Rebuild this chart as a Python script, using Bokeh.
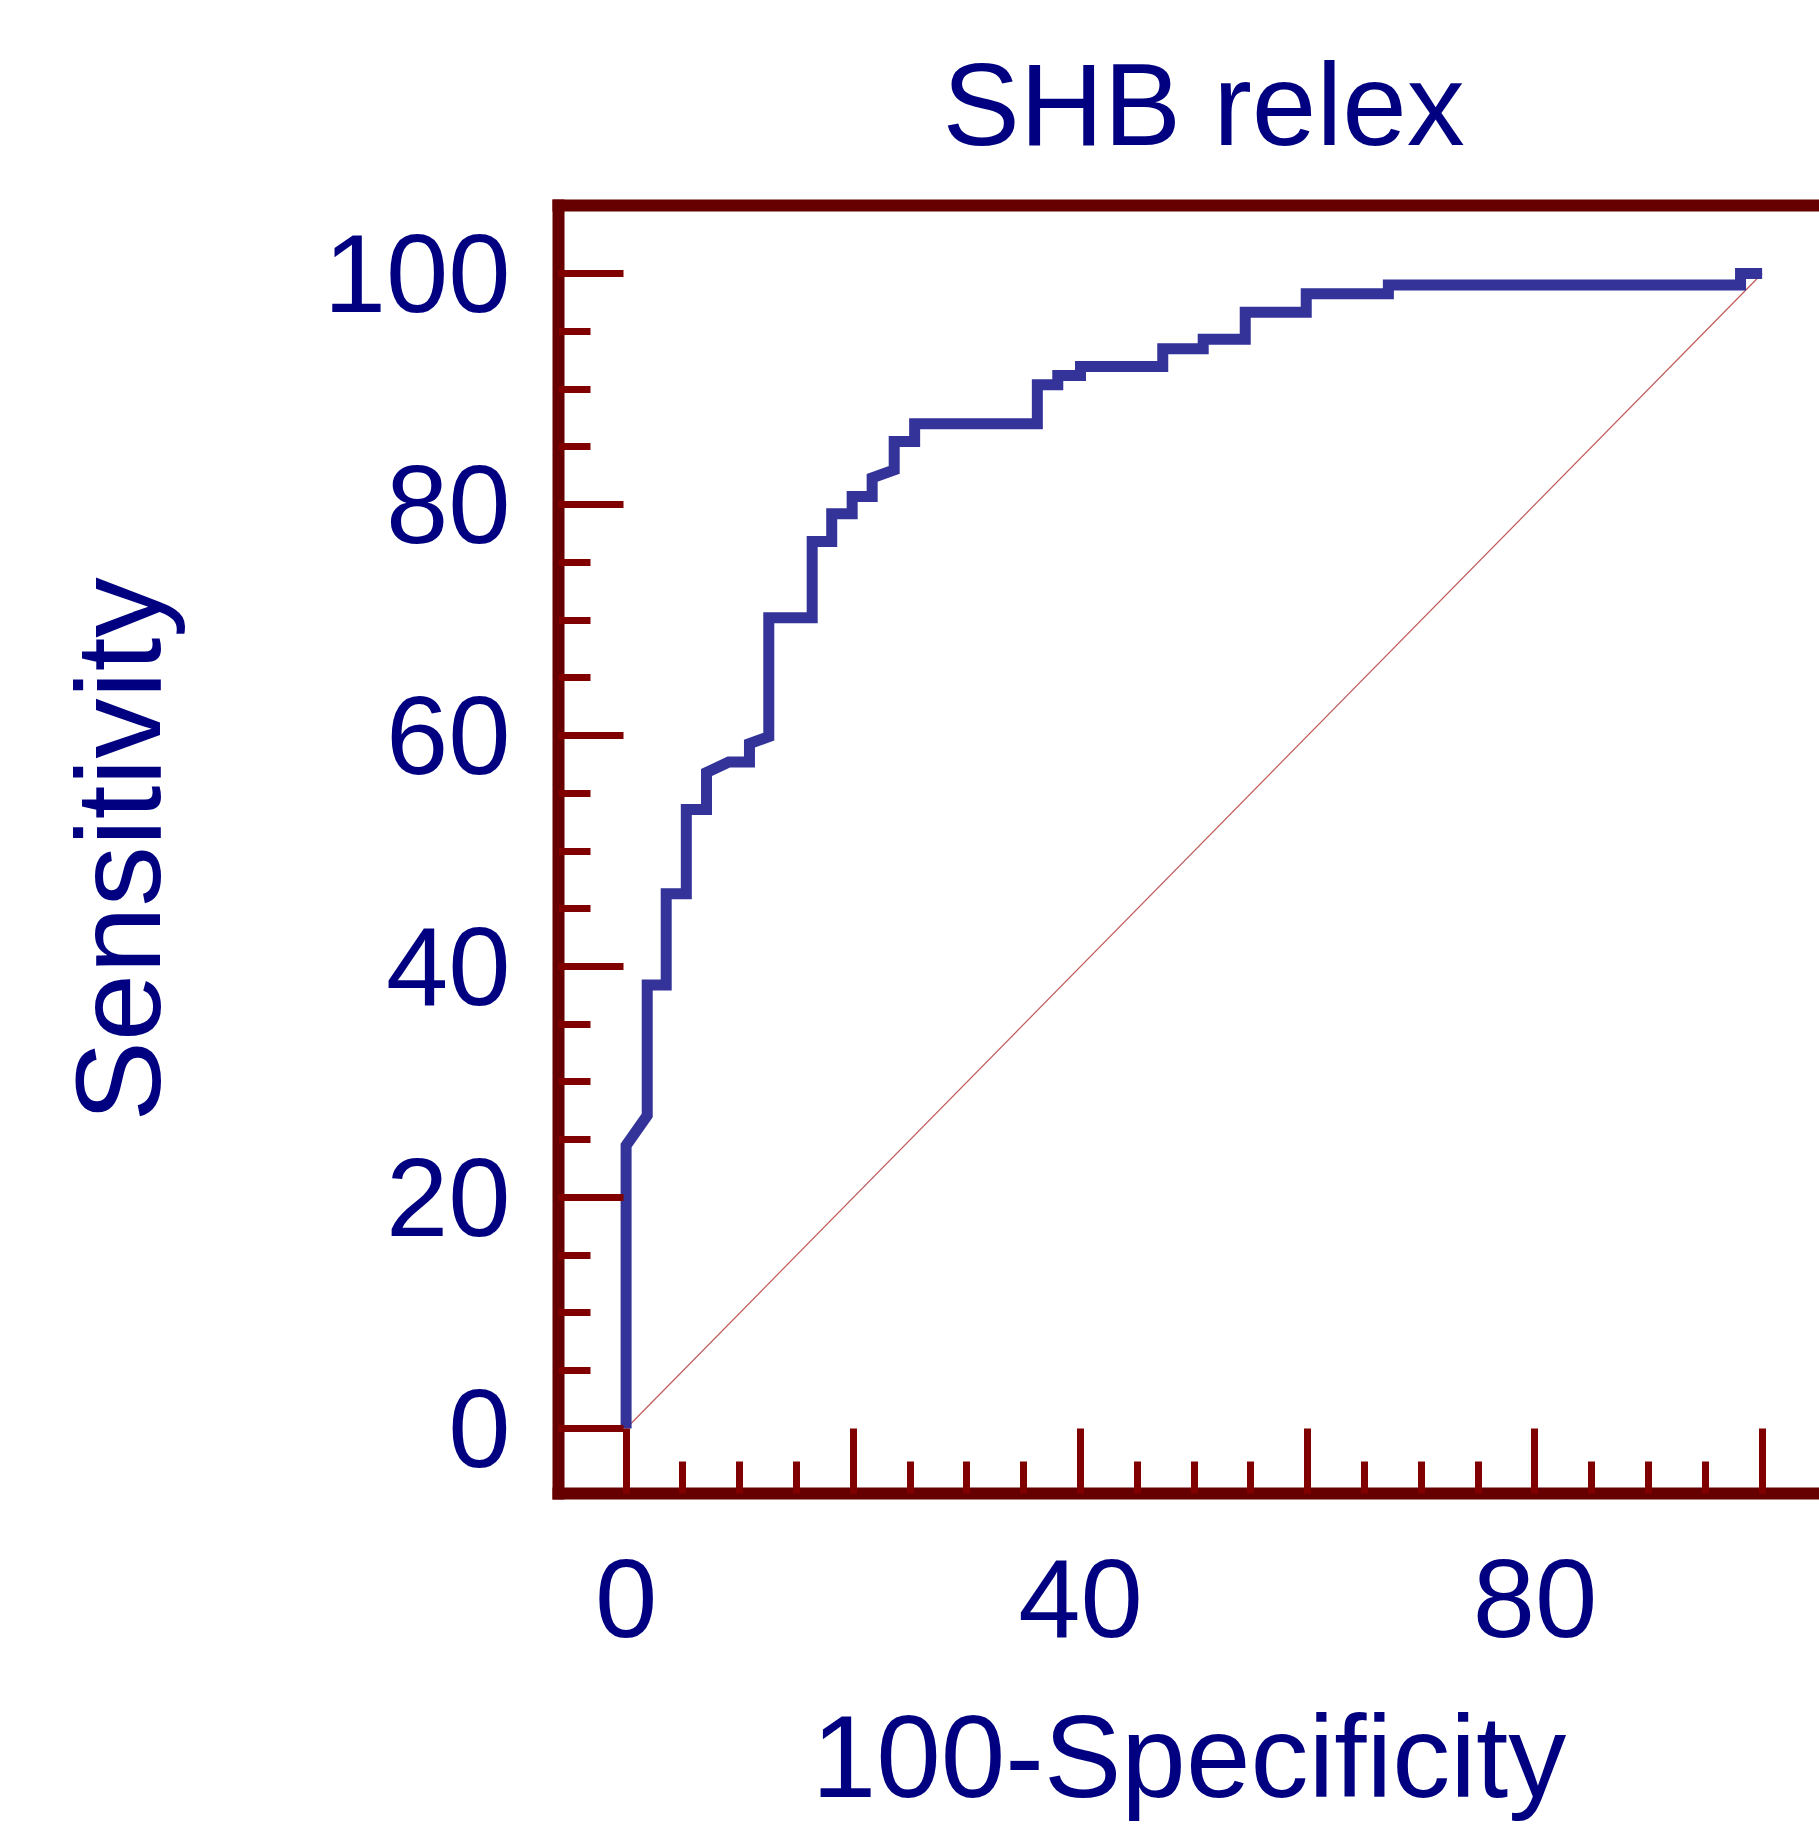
from bokeh.plotting import figure
from bokeh.models import Range1d, LinearAxis, FixedTicker, Title
from bokeh.embed import file_html
from bokeh.resources import INLINE

# ---- data ----
fpr = [0, 0, 1.86, 1.86, 3.53, 3.53, 5.3, 5.3, 7.08, 7.08, 9.04, 10.86, 10.86,
       12.56, 12.56, 16.38, 16.38, 18.1, 18.1, 19.9, 19.9, 21.66, 21.66, 23.6,
       23.6, 25.4, 25.4, 36.2, 36.2, 38.0, 38.0, 40.0, 40.0, 47.24, 47.24, 50.8,
       50.8, 54.5, 54.5, 59.87, 59.87, 67.1, 67.1, 98.1, 98.1, 100]
tpr = [0, 24.5, 27.1, 38.4, 38.4, 46.3, 46.3, 53.6, 53.6, 56.8, 57.7, 57.7, 59.3,
       59.9, 70.2, 70.2, 76.8, 76.8, 79.2, 79.2, 80.7, 80.7, 82.3, 83.0,
       85.45, 85.45, 87.0, 87.0, 90.36, 90.36, 91.17, 91.17, 91.95, 91.95, 93.48, 93.48,
       94.3, 94.3, 96.65, 96.65, 98.24, 98.24, 99.0, 99.0, 100, 100]
diag_x = [0, 100]
diag_y = [0, 100]

x_ticks = [0, 20, 40, 60, 80, 100]
x_tick_labels = ["0", "", "40", "", "80", ""]
x_minor_ticks = [0, 5, 10, 15, 20, 25, 30, 35, 40, 45, 50, 55, 60, 65, 70, 75, 80, 85, 90, 95, 100]
y_ticks = [0, 20, 40, 60, 80, 100]
y_tick_labels = ["0", "20", "40", "60", "80", "100"]
y_minor_ticks = [0, 5, 10, 15, 20, 25, 30, 35, 40, 45, 50, 55, 60, 65, 70, 75, 80, 85, 90, 95, 100]

title_text = "SHB relex"
x_title = "100-Specificity"
y_title = "Sensitivity"

# ---- styling ----
FRAME = "#660000"
TICK = "#800000"
TEXT = "#000080"
CURVE = "#333399"
FONT = "Liberation Sans"
FS = "112px"

W, H = 1819, 1825
FL, FT, FB = 558, 205, 1493          # frame left / top / bottom (px)
X0, X1 = -5.95, 105.05
Y0, Y1 = -5.63, 105.89
# shift of the axis-title centres (data units) obtained through axis bounds
X_SHIFT = 1.28
Y_SHIFT = 1.73

p = figure(width=W, height=H, output_backend="svg", toolbar_location=None,
           title=None,
           x_range=Range1d(X0, X1), y_range=Range1d(Y0, Y1),
           x_axis_location=None, y_axis_location=None,
           min_border_left=FL, min_border_top=FT, min_border_bottom=H - FB,
           min_border_right=0, outline_line_color=None,
           background_fill_color="white", border_fill_color="white")
p.grid.visible = False


def frame_line_axis():
    ax = LinearAxis(ticker=FixedTicker(ticks=[], minor_ticks=[]))
    ax.axis_line_width = 12
    ax.axis_line_color = FRAME
    ax.axis_line_cap = "square"
    ax.major_tick_in = 0
    ax.major_tick_out = 0
    ax.minor_tick_in = 0
    ax.minor_tick_out = 0
    ax.major_label_standoff = 0
    ax.axis_label_standoff = 0
    ax.major_label_text_font_size = "0px"
    return ax


def style_axis(ax):
    ax.axis_line_color = None
    ax.major_tick_out = 0
    ax.minor_tick_out = 0
    ax.major_tick_in = 65
    ax.minor_tick_in = 32
    ax.major_tick_line_width = 7
    ax.minor_tick_line_width = 7
    ax.major_tick_line_color = TICK
    ax.minor_tick_line_color = TICK
    ax.major_label_text_font = FONT
    ax.major_label_text_font_size = FS
    ax.major_label_text_color = TEXT
    ax.axis_label_text_font = FONT
    ax.axis_label_text_font_style = "normal"
    ax.axis_label_text_color = TEXT


# frame lines (left, bottom, top)
p.add_layout(frame_line_axis(), "below")
p.add_layout(frame_line_axis(), "left")
p.add_layout(frame_line_axis(), "above")

xaxis = LinearAxis(ticker=FixedTicker(ticks=x_ticks, minor_ticks=x_minor_ticks),
                   major_label_overrides=dict(zip(x_ticks, x_tick_labels)),
                   axis_label=x_title, bounds=(X0 + 2 * X_SHIFT, X1))
style_axis(xaxis)
xaxis.major_label_standoff = 66
xaxis.axis_label_standoff = 52
xaxis.axis_label_text_font_size = "116px"
p.add_layout(xaxis, "below")

yaxis = LinearAxis(ticker=FixedTicker(ticks=y_ticks, minor_ticks=y_minor_ticks),
                   major_label_overrides=dict(zip(y_ticks, y_tick_labels)),
                   axis_label=y_title, bounds=(Y0 + 2 * Y_SHIFT, Y1))
style_axis(yaxis)
yaxis.major_label_standoff = 48
yaxis.axis_label_standoff = 135
yaxis.axis_label_text_font_size = "121px"
p.add_layout(yaxis, "left")

p.add_layout(Title(text=title_text, align="left", offset=384, standoff=72,
                   text_font=FONT, text_font_size="116px", text_font_style="normal",
                   text_color=TEXT), "above")

p.line(diag_x, diag_y, line_color="#b03030", line_width=1.2, line_alpha=0.8)
p.line(fpr, tpr, line_color=CURVE, line_width=11, line_join="miter", line_cap="butt")

open("out.html", "w").write(file_html(p, INLINE))
